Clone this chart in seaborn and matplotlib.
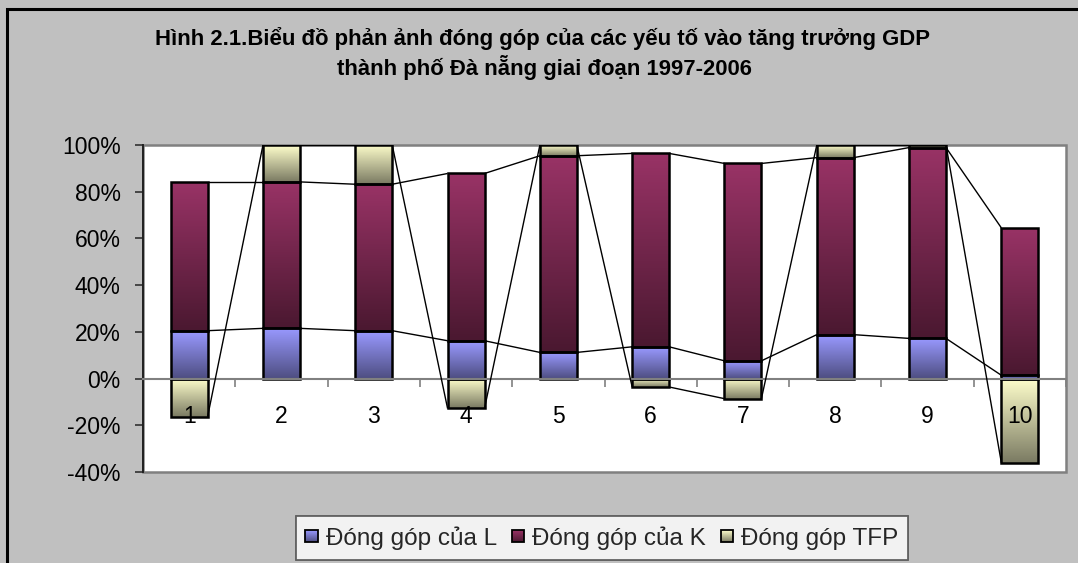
import numpy as np
import pandas as pd
import matplotlib
matplotlib.use("Agg")
import matplotlib.pyplot as plt
import seaborn as sns
from matplotlib.patches import Rectangle
from matplotlib.colors import LinearSegmentedColormap, to_rgb
from matplotlib.legend_handler import HandlerBase
from matplotlib.ticker import FixedLocator

# ---- data: share of GDP growth (%) by factor, periods 1..10 ----
periods = ["1", "2", "3", "4", "5", "6", "7", "8", "9", "10"]
contrib_L = [20.5, 21.5, 20.5, 16.2, 11.2, 13.6, 7.6, 18.8, 17.2, 1.4]
contrib_K = [63.7, 62.7, 62.7, 71.6, 84.2, 82.8, 84.5, 75.8, 81.7, 63.1]
contrib_TFP = [-16.3, 15.8, 16.8, -12.8, 4.6, -3.6, -8.6, 5.4, 1.1, -36.1]
series_names = ["Đóng góp của L", "Đóng góp của K", "Đóng góp TFP"]
y_ticks = [-40, -20, 0, 20, 40, 60, 80, 100]
title_lines = ["Hình 2.1.Biểu đồ phản ảnh đóng góp của các yếu tố vào tăng trưởng GDP",
               "thành phố Đà nẵng giai đoạn 1997-2006"]

# gradient colours (top, bottom) for each series
shades = {
    "L": ("#9999FF", "#4D4D80"),
    "K": ("#993366", "#4A1830"),
    "TFP": ("#FFFFCC", "#7A7A62"),
}

sns.set_style("white")
plt.rcParams["font.family"] = ["Liberation Sans", "DejaVu Sans"]

fig = plt.figure(figsize=(10.78, 5.63), dpi=100, facecolor="#C0C0C0")
ax = fig.add_axes([143 / 1078, 1 - 472 / 563, 923 / 1078, 327 / 563])
ax.set_facecolor("white")

df = pd.DataFrame({"period": periods, "L": contrib_L, "K": contrib_K, "TFP": contrib_TFP})
L = np.asarray(contrib_L)
K = np.asarray(contrib_K)
T = np.asarray(contrib_TFP)
bottoms = {"L": np.zeros_like(L), "K": L, "TFP": np.where(T > 0, L + K, 0.0)}
ends = {"L": L, "K": L + K, "TFP": np.where(T > 0, L + K + T, T)}

bar_w = 0.4
series_patches = {}
for key in ["L", "K", "TFP"]:
    n0 = len(ax.patches)
    sns.barplot(data=df, x="period", y=key, order=periods, bottom=bottoms[key],
                width=bar_w, color=shades[key][0], saturation=1, errorbar=None,
                edgecolor="black", linewidth=1.8, ax=ax)
    series_patches[key] = ax.patches[n0:]


def fill_gradient(patch, top, bottom):
    x0, w = patch.get_x(), patch.get_width()
    y, h = patch.get_y(), patch.get_height()
    lo, hi = min(y, y + h), max(y, y + h)
    cmap = LinearSegmentedColormap.from_list("seg", [bottom, top])
    grad = np.linspace(0, 1, 256).reshape(-1, 1)
    im = ax.imshow(grad, extent=(x0, x0 + w, lo, hi), origin="lower", cmap=cmap,
                   aspect="auto", interpolation="bilinear", zorder=2)
    im.set_clip_path(patch)
    patch.set_facecolor("none")
    patch.set_zorder(3)


for key, patches in series_patches.items():
    for p in patches:
        fill_gradient(p, *shades[key])

# series lines joining the segment ends of neighbouring columns
xs = np.arange(len(periods))
for key in ["L", "K", "TFP"]:
    e = ends[key]
    for i in range(len(xs) - 1):
        ax.plot([xs[i] + bar_w / 2, xs[i + 1] - bar_w / 2], [e[i], e[i + 1]],
                color="black", lw=1.0, zorder=4, solid_capstyle="butt")

ax.set_xlim(-0.5, len(periods) - 0.5)
ax.set_ylim(-40, 100)
ax.set_xlabel("")
ax.set_ylabel("")

ax.set_yticks(y_ticks)
ax.set_yticklabels([f"{v}%" for v in y_ticks])
ax.tick_params(axis="y", which="major", left=True, direction="out", length=6,
               width=1.2, color="#303030", labelsize=16.5, pad=10, labelcolor="black")

ax.set_xticks(xs)
ax.set_xticklabels(periods)
ax.xaxis.set_minor_locator(FixedLocator(np.arange(0.5, len(periods), 1.0)))
ax.tick_params(axis="x", which="major", bottom=True, length=0, labelsize=16.5,
               pad=19, labelcolor="black")
ax.tick_params(axis="x", which="minor", bottom=True, direction="out", length=6,
               width=1.2, color="#808080")

for side in ["top", "right"]:
    ax.spines[side].set_visible(False)
ax.spines["bottom"].set_position(("data", 0))
ax.spines["bottom"].set_color("#808080")
ax.spines["bottom"].set_linewidth(1.5)
ax.spines["left"].set_color("#202020")
ax.spines["left"].set_linewidth(1.4)
ax.set_axisbelow(False)
for sp in ax.spines.values():
    sp.set_zorder(3.5)

# plot area frame
ax.add_patch(Rectangle((0, 0), 1, 1, transform=ax.transAxes, fill=False,
                       edgecolor="#808080", lw=1.8, clip_on=False, zorder=1.5))

# title
fig.text(0.503, 1 - 38 / 563, title_lines[0], ha="center", va="center",
         fontsize=15.9, fontweight="bold", color="black")
fig.text(0.505, 1 - 68 / 563, title_lines[1], ha="center", va="center",
         fontsize=15.9, fontweight="bold", color="black")


class GradientSquare(HandlerBase):
    def __init__(self, top, bottom):
        super().__init__()
        self.top = np.array(to_rgb(top))
        self.bottom = np.array(to_rgb(bottom))

    def create_artists(self, legend, orig_handle, xdescent, ydescent, width,
                       height, fontsize, trans):
        side = min(width, height)
        x0, y0 = -xdescent, -ydescent + (height - side) / 2
        n = 12
        arts = []
        for i in range(n):
            c = self.bottom + (self.top - self.bottom) * (i + 0.5) / n
            arts.append(Rectangle((x0, y0 + i * side / n), side, side / n,
                                  facecolor=c, edgecolor="none", transform=trans))
        arts.append(Rectangle((x0, y0), side, side, facecolor="none",
                              edgecolor="black", lw=1.3, transform=trans))
        return arts


handles = [Rectangle((0, 0), 1, 1) for _ in series_names]
hmap = {h: GradientSquare(*shades[k]) for h, k in zip(handles, ["L", "K", "TFP"])}
leg = fig.legend(handles, series_names, handler_map=hmap, loc="center",
                 bbox_to_anchor=(602 / 1078, 1 - 538 / 563), ncol=3, frameon=True,
                 fancybox=False, fontsize=17.5, handlelength=0.5, handleheight=0.5,
                 handletextpad=0.35, columnspacing=0.6, borderpad=0.4)
leg.get_frame().set_edgecolor("#404040")
leg.get_frame().set_linewidth(1.3)
leg.get_frame().set_facecolor("white")

# outer chart border
fig.add_artist(Rectangle((7 / 1078, -0.1), 1.2, 1.1 - 9 / 563, transform=fig.transFigure,
                         fill=False, edgecolor="black", lw=2.2))

fig.savefig("out.png", dpi=100, facecolor=fig.get_facecolor())
